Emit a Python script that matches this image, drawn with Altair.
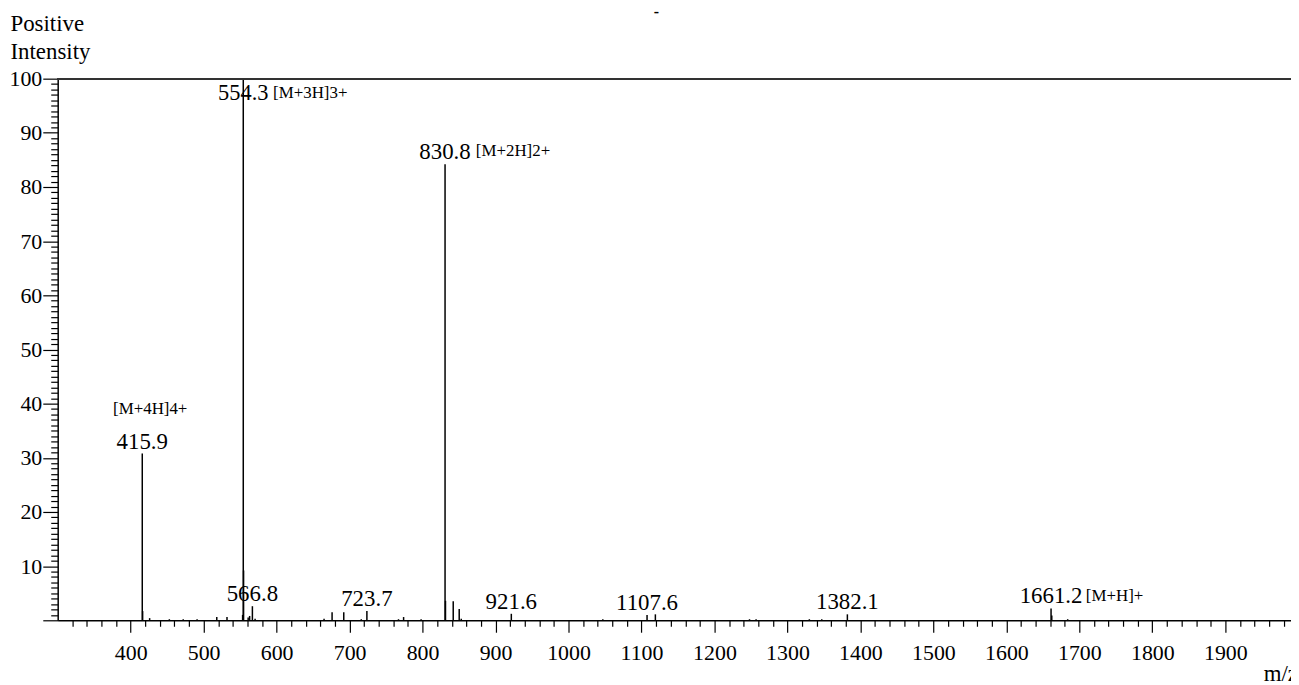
import altair as alt
import pandas as pd

# ---- data ----
mz = [415.9, 416.4, 426.0, 453.0, 472.0, 491.0, 518.0, 532.0, 553.4, 554.3, 554.7,
      561.0, 563.0, 566.8, 570.5, 665.0, 676.0, 692.0, 716.0, 723.7, 767.0, 774.0,
      798.0, 830.8, 831.4, 842.0, 850.2, 853.0, 921.6, 1047.0, 1107.6, 1119.0,
      1248.0, 1257.0, 1330.0, 1347.0, 1382.1, 1661.2, 1662.2, 1684.0]
intensity = [30.8, 1.7, 0.4, 0.2, 0.2, 0.2, 0.6, 0.6, 1.0, 100.0, 9.2,
             0.5, 0.8, 2.6, 0.3, 0.3, 1.5, 1.5, 0.2, 1.7, 0.2, 0.6,
             0.2, 84.2, 3.6, 3.5, 2.1, 0.3, 1.2, 0.2, 1.0, 1.1,
             0.2, 0.2, 0.2, 0.2, 1.1, 2.2, 0.9, 0.2]

label_mz = [415.9, 566.8, 723.7, 830.8, 921.6, 1107.6, 1382.1, 1661.2]
label_int = [30.8, 2.6, 1.7, 84.2, 1.2, 1.0, 1.1, 2.2]
label_text = ["415.9", "566.8", "723.7", "830.8", "921.6", "1107.6", "1382.1", "1661.2"]

base_mz = [554.3]
base_int = [100.0]
base_text = ["554.3"]

ion_mz = [415.9, 554.3, 830.8, 1661.2]
ion_int = [30.8, 100.0, 84.2, 2.2]
ion_text = ["[M+4H]4+", "[M+3H]3+", "[M+2H]2+", "[M+H]+"]

x_ticks = list(range(320, 1991, 20))
y_ticks = list(range(0, 101, 1))

FONT = "Liberation Serif"

peaks = pd.DataFrame({"mz": mz, "intensity": intensity})
labels = pd.DataFrame({"mz": label_mz, "intensity": label_int, "text": label_text})
base = pd.DataFrame({"mz": base_mz, "intensity": base_int, "text": base_text})
ions = pd.DataFrame({"mz": ion_mz, "intensity": ion_int, "text": ion_text})

xscale = alt.Scale(domain=[300, 1990], nice=False, zero=False)
yscale = alt.Scale(domain=[0, 100], nice=False)

xaxis = alt.Axis(
    values=x_ticks,
    tickCount=500,
    labelOverlap=False,
    labelExpr="datum.value % 100 === 0 ? datum.label : ''",
    format="d",
    tickSize={"condition": {"test": "datum.value % 100 === 0", "value": 12}, "value": 6},
    labelPadding=10,
    labelFontSize=22,
    title="m/z",
    titleX=1213,
    titleY=61,
    titleAlign="left",
    titleBaseline="alphabetic",
    titleFontSize=23,
    grid=False,
)
yaxis = alt.Axis(
    values=y_ticks,
    tickCount=500,
    labelOverlap=False,
    format="d",
    labelExpr="datum.value % 10 === 0 && datum.value > 0 ? datum.label : ''",
    tickSize={"condition": {"test": "datum.value % 10 === 0", "value": 15}, "value": 7},
    labelPadding=1,
    labelFontSize=22,
    title=["Positive", "Intensity"],
    titleAngle=0,
    titleAlign="left",
    titleBaseline="alphabetic",
    titleX=-48,
    titleY=-48,
    titleLineHeight=28,
    titleFontSize=23,
    grid=False,
)

sticks = alt.Chart(peaks).mark_rule(color="#000000", strokeWidth=1.5).encode(
    x=alt.X("mz:Q", scale=xscale, axis=xaxis),
    y=alt.Y("intensity:Q", scale=yscale, axis=yaxis),
    y2=alt.datum(0),
)

top_line = alt.Chart(peaks).mark_rule(color="#333333", strokeWidth=1.5).encode(
    y=alt.datum(100)
)

num_labels = alt.Chart(labels).mark_text(
    font=FONT, fontSize=23, color="#000000", align="center", baseline="alphabetic", dy=-5
).encode(x="mz:Q", y="intensity:Q", text="text:N")

num_830 = None  # placeholder (830.8 handled in num_labels)

base_label = alt.Chart(base).mark_text(
    font=FONT, fontSize=22.5, color="#000000", align="center", baseline="alphabetic", dy=21
).encode(x="mz:Q", y="intensity:Q", text="text:N")

ion4 = alt.Chart(ions).transform_filter("datum.text == '[M+4H]4+'").mark_text(
    font=FONT, fontSize=17, color="#000000", align="center", baseline="alphabetic", dx=8, dy=-40
).encode(x="mz:Q", y="intensity:Q", text="text:N")

ion3 = alt.Chart(ions).transform_filter("datum.text == '[M+3H]3+'").mark_text(
    font=FONT, fontSize=17, color="#000000", align="left", baseline="alphabetic", dx=30, dy=19
).encode(x="mz:Q", y="intensity:Q", text="text:N")

ion2 = alt.Chart(ions).transform_filter("datum.text == '[M+2H]2+'").mark_text(
    font=FONT, fontSize=17, color="#000000", align="left", baseline="alphabetic", dx=31, dy=-8
).encode(x="mz:Q", y="intensity:Q", text="text:N")

ion1 = alt.Chart(ions).transform_filter("datum.text == '[M+H]+'").mark_text(
    font=FONT, fontSize=17, color="#000000", align="left", baseline="alphabetic", dx=35, dy=-7
).encode(x="mz:Q", y="intensity:Q", text="text:N")

chart = alt.layer(
    sticks, top_line, num_labels, base_label, ion4, ion3, ion2, ion1
).properties(
    width=1241,
    height=545,
    autosize=alt.AutoSizeParams(type="none"),
    padding={"left": 50, "top": 69, "right": 0, "bottom": 63},
    title=alt.TitleParams(text="-", fontSize=16, font=FONT, color="#000000",
                          dx=-18, dy=7, offset=0),
).configure_view(
    stroke=None
).configure_axis(
    labelFont=FONT,
    titleFont=FONT,
    labelColor="#000000",
    titleColor="#000000",
    titleFontWeight="normal",
    domainColor="#000000",
    domainWidth=1.5,
    tickColor="#000000",
    tickWidth=1.2,
)

chart.save("out.html", embed_options={"renderer": "svg", "actions": False})
